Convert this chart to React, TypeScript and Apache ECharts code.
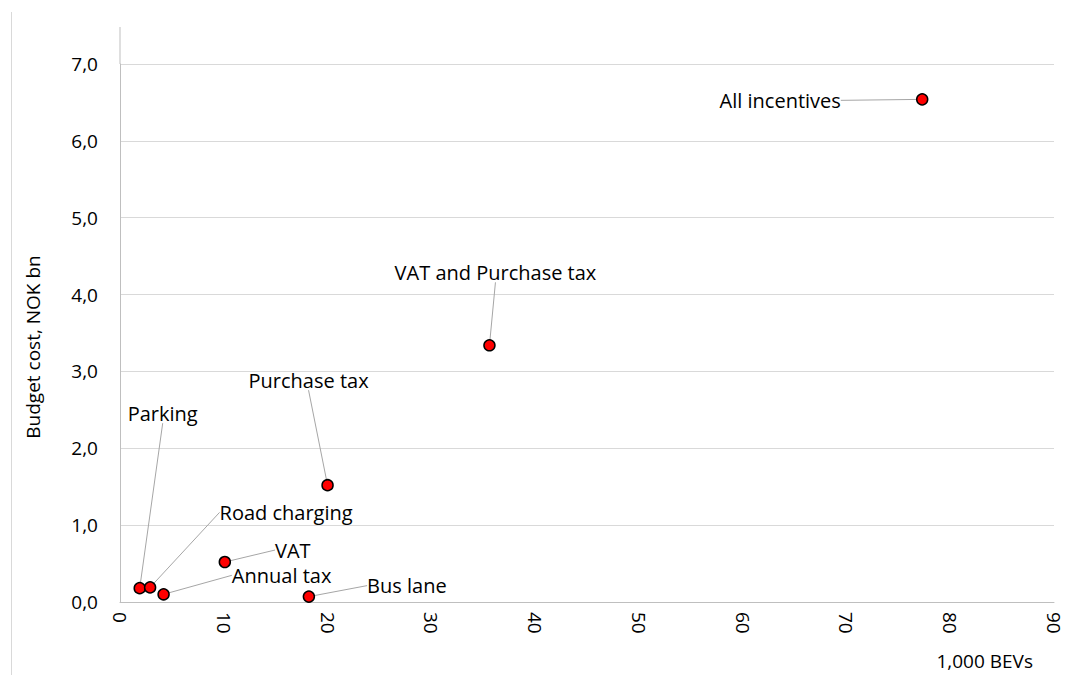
import React, { useEffect, useRef } from "react";
import * as echarts from "echarts";

const names = ["All incentives", "VAT and Purchase tax", "Purchase tax", "Parking", "Road charging", "VAT", "Annual tax", "Bus lane"];
const bevs = [77.3, 35.6, 20.0, 1.9, 2.9, 10.1, 4.2, 18.2];
const budgetCost = [6.54, 3.34, 1.52, 0.18, 0.19, 0.52, 0.1, 0.07];
const labelDx = [-142, 6, -19, 23, 136, 68, 118, 98];
const labelDy = [1, -73, -105, -175, -75, -12, -19, -11];

const FONT = "'Open Sans', 'Noto Sans', sans-serif";

export default function App() {
  const ref = useRef<HTMLDivElement>(null);
  useEffect(() => {
    document.body.style.margin = "0";
    const chart = echarts.init(ref.current!, null, { renderer: "svg" });
    const data = names.map((n, i) => ({ name: n, value: [bevs[i], budgetCost[i]] }));
    chart.setOption({
      animation: false,
      backgroundColor: "#ffffff",
      grid: { left: 120, right: 13, top: 64, bottom: 73 },
      xAxis: {
        type: "value",
        min: 0,
        max: 90,
        interval: 10,
        axisLine: { show: true, lineStyle: { color: "#bfbfbf", width: 1 } },
        axisTick: { show: false },
        splitLine: { show: false },
        axisLabel: { rotate: -90, margin: 10, fontSize: 19, lineHeight: 17, color: "#000", fontFamily: FONT },
      },
      yAxis: {
        type: "value",
        min: 0,
        max: 7,
        interval: 1,
        axisLine: { show: true, lineStyle: { color: "#bfbfbf", width: 1 } },
        axisTick: { show: false },
        splitLine: { show: true, lineStyle: { color: "#d9d9d9", width: 1 } },
        axisLabel: {
          margin: 22,
          fontSize: 19,
          color: "#000",
          fontFamily: FONT,
          formatter: (v: number) => v.toFixed(1).replace(".", ","),
        },
      },
      graphic: [
        { type: "line", shape: { x1: 11.5, y1: 12, x2: 11.5, y2: 675 }, style: { stroke: "#d9d9d9", lineWidth: 1 } },
        { type: "line", shape: { x1: 120, y1: 27, x2: 120, y2: 64 }, style: { stroke: "#bfbfbf", lineWidth: 1 } },
        {
          type: "text",
          x: 33,
          y: 347,
          rotation: Math.PI / 2,
          style: { text: "Budget cost, NOK bn", fontSize: 19, fontFamily: FONT, fill: "#000", align: "center", verticalAlign: "middle" },
        },
        {
          type: "text",
          x: 1033,
          y: 661,
          style: { text: "1,000 BEVs", fontSize: 19, fontFamily: FONT, fill: "#000", align: "right", verticalAlign: "middle" },
        },
      ],
      series: [
        {
          type: "scatter",
          data,
          symbol: "circle",
          symbolSize: 11,
          itemStyle: { color: "#ff0000", borderColor: "#000", borderWidth: 1.5, opacity: 1 },
          emphasis: { disabled: true },
          label: {
            show: true,
            position: "inside",
            formatter: "{b}",
            fontSize: 20,
            color: "#000",
            fontFamily: FONT,
          },
          labelLine: { show: true, lineStyle: { color: "#a6a6a6", width: 1 } },
          labelLayout: (p: any) => ({ dx: labelDx[p.dataIndex], dy: labelDy[p.dataIndex] }),
        },
      ],
    });
    return () => chart.dispose();
  }, []);
  return <div ref={ref} style={{ width: 1067, height: 675 }} />;
}
